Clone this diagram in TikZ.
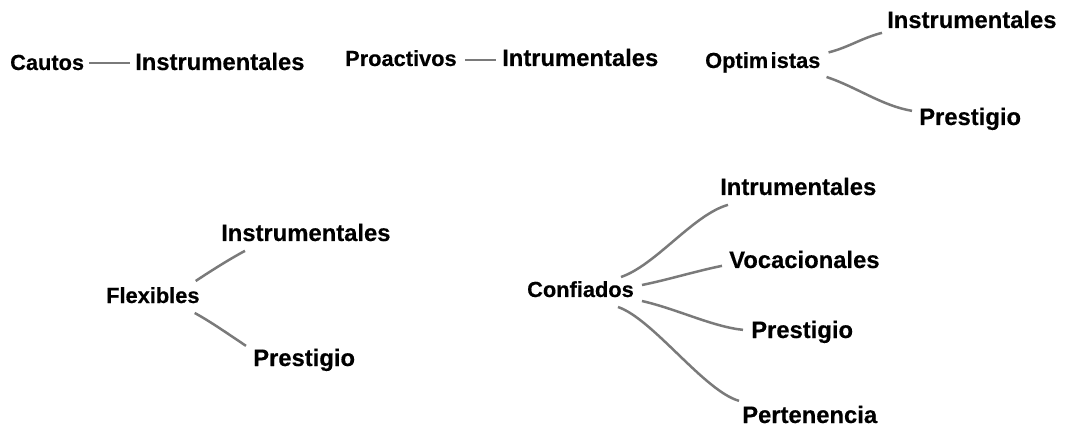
\documentclass[tikz,border=0pt]{standalone}
\usepackage{fontspec}
\setmainfont{Liberation Sans}[BoldFeatures={FakeBold=0.4}]
\begin{document}
\begin{tikzpicture}[x=1pt,y=-1pt,
  parent/.style={anchor=base west,inner sep=0pt,text height=15.7pt,text depth=4.5pt,font=\fontsize{21.8}{24}\selectfont\bfseries},
  child/.style={anchor=base west,inner sep=0pt,text height=17.2pt,text depth=4.9pt,font=\fontsize{23.8}{26}\selectfont\bfseries},
  conn/.style={draw=linegray,line width=2.5pt}]
\definecolor{linegray}{HTML}{7A7A7A}
\useasboundingbox (0,0) rectangle (1065,430);
% row 1
\node[parent] (cautos) at (10,70) {Cautos};
\node[child] (inst1) at (135,70) {Instrumentales};
\node[parent] (proac) at (345,66) {Proactivos};
\node[child] (intr1) at (502,66) {Intrumentales};
\node[parent] (optim) at (705,68) {Optim\kern2.5pt istas};
\node[child] (inst2) at (887,28) {Instrumentales};
\node[child] (prest1) at (919,125) {Prestigio};
% row 2
\node[parent] (flex) at (106,303) {Flexibles};
\node[child] (inst3) at (221,241) {Instrumentales};
\node[child] (prest2) at (253,366) {Prestigio};
\node[parent] (conf) at (527,297) {Confiados};
\node[child] (intr2) at (720,195) {Intrumentales};
\node[child] (voc) at (729,268) {Vocacionales};
\node[child] (prest3) at (751,338) {Prestigio};
\node[child] (pert) at (742,423) {Pertenencia};
% connectors
\coordinate (cA) at ([xshift=5pt,yshift=1.5pt]cautos.east);
\coordinate (cB) at ([xshift=-5pt]inst1.west);
\draw[conn] (cA) -- (cB |- cA);
\coordinate (pA) at ([xshift=8pt,yshift=0.5pt]proac.east);
\coordinate (pB) at ([xshift=-6pt]intr1.west);
\draw[conn] (pA) -- (pB |- pA);
\draw[conn] ([xshift=8pt,yshift=10pt]optim.east) .. controls +(20,-5) and +(-20,5) .. ([xshift=-5pt,yshift=-11pt]inst2.west);
\draw[conn] ([xshift=6pt,yshift=-14.6pt]optim.east) .. controls +(30,10) and +(-30,-5) .. ([xshift=-7pt,yshift=8pt]prest1.west);
\draw[conn] ([xshift=-4pt,yshift=16.4pt]flex.east) .. controls +(15,-10) and +(-15,8) .. ([xshift=24pt,yshift=-16pt]inst3.west);
\draw[conn] ([xshift=-5pt,yshift=-15.6pt]flex.east) .. controls +(15,8) and +(-15,-10) .. ([xshift=-7pt,yshift=14pt]prest2.west);
\draw[conn] ([xshift=-13pt,yshift=14.4pt]conf.east) .. controls +(35,-12) and +(-35,10) .. ([xshift=8pt,yshift=-16pt]intr2.west);
\draw[conn] ([xshift=8pt,yshift=6.4pt]conf.east) .. controls +(25,-5) and +(-25,5) .. ([xshift=-7pt,yshift=-4pt]voc.west);
\draw[conn] ([xshift=8pt,yshift=-9.6pt]conf.east) .. controls +(35,8) and +(-30,-3) .. ([xshift=-8pt,yshift=2pt]prest3.west);
\draw[conn] ([xshift=-16pt,yshift=-15.6pt]conf.east) .. controls +(35,12) and +(-35,-10) .. ([xshift=-3pt,yshift=16pt]pert.west);
\end{tikzpicture}
\end{document}
